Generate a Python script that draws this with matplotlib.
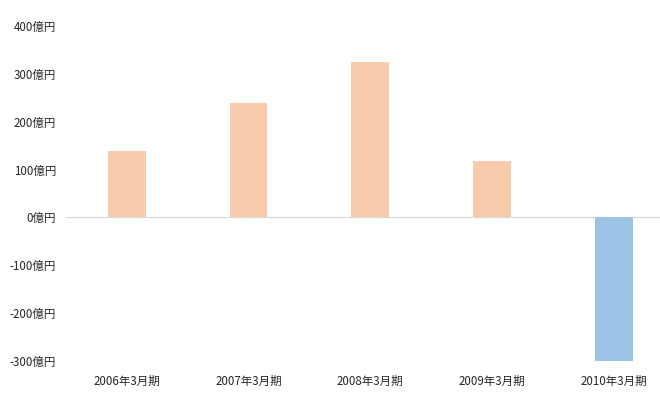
import matplotlib
matplotlib.use("Agg")
import matplotlib.pyplot as plt

plt.rcParams['font.family'] = ['Noto Sans CJK JP', 'DejaVu Sans']

# Data (億円)
periods = ["2006年3月期", "2007年3月期", "2008年3月期", "2009年3月期", "2010年3月期"]
values = [139, 240, 324, 117, -300]
y_ticks = [-300, -200, -100, 0, 100, 200, 300, 400]
y_tick_labels = [f"{v}億円" for v in y_ticks]

pos_color = "#F8CBAD"
neg_color = "#9DC3E6"

fig = plt.figure(figsize=(6.6, 3.99), dpi=100)
ax = fig.add_axes([0.1, 0.095, 0.9, 0.84])

x = list(range(len(periods)))
colors = [pos_color if v >= 0 else neg_color for v in values]
ax.bar(x, values, width=0.31, color=colors, zorder=2)
ax.axhline(0, color="#D9D9D9", linewidth=0.8, zorder=1)

ax.set_xlim(-0.5, 4.38)
ax.set_ylim(-300, 400)
ax.set_yticks(y_ticks)
ax.set_yticklabels(y_tick_labels, fontsize=8.3, color="#262626")
ax.set_xticks(x)
ax.set_xticklabels(periods, fontsize=8.3, color="#262626")
ax.tick_params(axis="y", length=0, pad=7)
ax.tick_params(axis="x", length=0, pad=10)
for s in ax.spines.values():
    s.set_visible(False)

fig.savefig("out.png", dpi=100)
